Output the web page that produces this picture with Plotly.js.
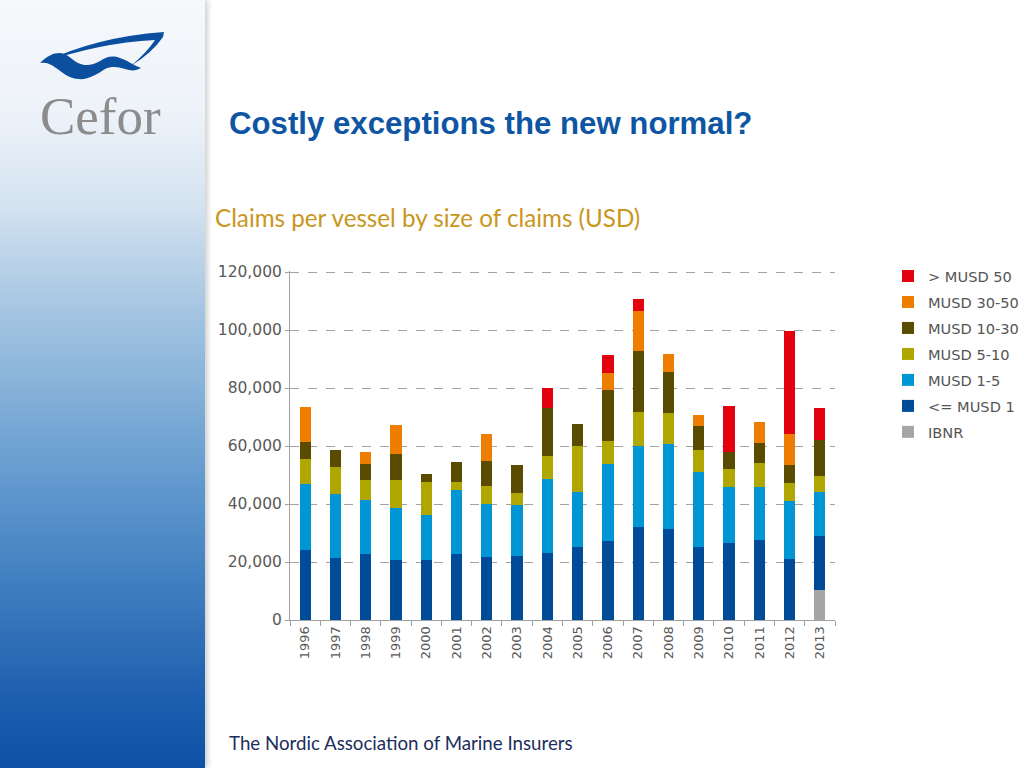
<!DOCTYPE html>
<html>
<head>
<meta charset="utf-8">
<script src="https://cdn.plot.ly/plotly-3.0.1.min.js"></script>
<style>
  html, body { margin: 0; padding: 0; width: 1024px; height: 768px; overflow: hidden; background: #ffffff; }
  #panel { position: absolute; left: 0; top: 0; width: 205px; height: 768px;
    background: linear-gradient(to bottom, #f6f8fb 0%, #eef3f9 14%, #d6e4f1 26%, #a9c8e3 39%, #5b95cc 65%, #1d5faf 91%, #0d52a6 100%);
    box-shadow: 3px 0 5px rgba(0,0,0,0.18); }
  #logo { position: absolute; left: 0; top: 0; }
  #chart { position: absolute; left: 0; top: 0; width: 1024px; height: 768px; }
</style>
</head>
<body>
<div id="panel"></div>
<svg id="logo" width="205" height="100" viewBox="0 0 205 100">
  <path d="M42,63 Q95,37 164,32 L163,37 Q152,53 132,65 Q148,51 155,40 Q98,43 42,63 Z" fill="#0d4f9f"/>
  <path d="M40,63 C47,56 53,53 60,53 C68,54 72,60 78,63 C84,66 92,66 100,61 C106,57 112,55 120,58 C127,60 133,65 141,68 C136,71 131,71 125,69 C118,67 112,66 105,69 C96,75 88,80 78,79 C68,78 62,72 56,68 C51,64 46,62 40,63 Z" fill="#0d4f9f"/>
</svg>
<div id="chart"></div>
<script>
// ---- data ----
var years = ['1996','1997','1998','1999','2000','2001','2002','2003','2004','2005','2006','2007','2008','2009','2010','2011','2012','2013'];
var ibnr    = [0,0,0,0,0,0,0,0,0,0,0,0,0,0,0,0,0,10300];
var upTo1   = [24100,21300,22800,20600,20600,22800,21700,22100,23100,25200,27200,32000,31300,25200,26600,27700,21000,18700];
var m1to5   = [22700,22000,18600,18100,15500,22000,18400,17600,25400,18800,26700,28100,29400,25900,19400,18300,20100,15100];
var m5to10  = [8700,9500,7000,9700,11400,2700,6200,4000,8200,16100,7800,11700,10700,7500,6000,8000,6000,5700];
var m10to30 = [5800,5800,5400,9000,3000,7000,8600,9700,16400,7400,17600,21000,14200,8200,5800,6900,6300,12300];
var m30to50 = [12300,0,4000,9700,0,0,9400,0,0,0,5900,13800,6200,3800,0,7400,10600,0];
var over50  = [0,0,0,0,0,0,0,0,6900,0,6200,4000,0,0,15900,0,35500,10900];
var seriesNames = ['IBNR','<= MUSD 1','MUSD 1-5','MUSD 5-10','MUSD 10-30','MUSD 30-50','> MUSD 50'];
var yTicks = [0,20000,40000,60000,80000,100000,120000];

var seriesData = [ibnr, upTo1, m1to5, m5to10, m10to30, m30to50, over50];
var colors = ['#a6a6a6','#004c99','#0096d6','#b0a600','#594c00','#ee7d00','#e3000f'];

var traces = seriesData.map(function(vals, i){
  return {
    type: 'bar', x: years, y: vals, name: seriesNames[i],
    legendgroup: 'g' + i,
    legendrank: seriesData.length - i,
    marker: { color: colors[i], line: { width: 0 } },
    hoverinfo: 'x+y+name'
  };
});

// plot area in pixels: x 290..835, y 271..620 (range top 120350 so the 120,000 gridline shows)
var L = 290, R = 835, T = 271, B = 620;
var yMax = 120350;
function px(x){ return (x - L) / (R - L); }
function py(y){ return (B - y) / (B - T); }

var tickFont = 'DejaVu Sans, Liberation Sans, sans-serif';

var layout = {
  width: 1024, height: 768,
  margin: { l: L, r: 1024 - R, t: T, b: 768 - B, pad: 0, autoexpand: false },
  paper_bgcolor: 'rgba(0,0,0,0)',
  plot_bgcolor: 'rgba(0,0,0,0)',
  barmode: 'stack',
  bargap: 0.63,
  showlegend: true,
  legend: {
    x: px(888), xanchor: 'left', y: py(260), yanchor: 'top',
    traceorder: 'grouped', tracegroupgap: 4,
    bgcolor: 'rgba(0,0,0,0)',
    font: { family: tickFont, size: 14.6, color: '#555555' },
    itemwidth: 30
  },
  xaxis: {
    type: 'category',
    tickangle: -90,
    ticks: 'outside', tickson: 'boundaries', ticklen: 5, tickcolor: '#a0a0a0',
    showline: true, linecolor: '#a0a0a0', linewidth: 1,
    showgrid: false, zeroline: false,
    tickfont: { family: tickFont, size: 13, color: '#595959' }
  },
  yaxis: {
    range: [0, yMax],
    tickvals: yTicks,
    tickformat: ',d',
    ticks: 'outside', ticklen: 4, tickcolor: '#a0a0a0',
    showline: true, linecolor: '#a0a0a0', linewidth: 1,
    showgrid: true, gridcolor: '#a3a3a3', griddash: 'dash', gridwidth: 1,
    zeroline: false,
    tickfont: { family: tickFont, size: 15.5, color: '#595959' }
  },
  annotations: [
    { text: 'Costly exceptions the new normal?', xref: 'paper', yref: 'paper',
      x: px(227), y: py(123), xanchor: 'left', yanchor: 'middle', showarrow: false,
      font: { family: 'Liberation Sans, Arial, sans-serif', size: 31.2, weight: 'bold', color: '#0e56a3' } },
    { text: 'Claims per vessel by size of claims (USD)', xref: 'paper', yref: 'paper',
      x: px(213), y: py(217), xanchor: 'left', yanchor: 'middle', showarrow: false,
      font: { family: 'Lato, sans-serif', size: 24.2, color: '#c9961c' } },
    { text: 'The Nordic Association of Marine Insurers', xref: 'paper', yref: 'paper',
      x: px(227), y: py(743), xanchor: 'left', yanchor: 'middle', showarrow: false,
      font: { family: 'Lato, sans-serif', size: 18.7, color: '#1b2e5c' } },
    { text: 'Cefor', xref: 'paper', yref: 'paper',
      x: px(38), y: py(116), xanchor: 'left', yanchor: 'middle', showarrow: false,
      font: { family: 'Liberation Serif, serif', size: 53, color: '#8c8c8c' } }
  ]
};

Plotly.newPlot('chart', traces, layout, { displayModeBar: false, staticPlot: true });
</script>
</body>
</html>
